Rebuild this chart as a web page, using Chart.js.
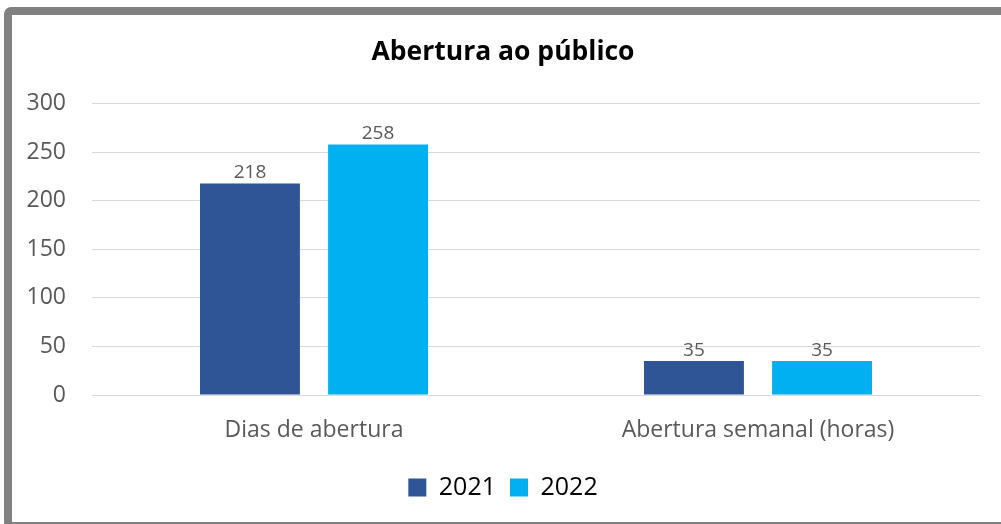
<!DOCTYPE html>
<html>
<head>
<meta charset="utf-8">
<script src="https://cdn.jsdelivr.net/npm/chart.js@4"></script>
<style>
  html, body { margin: 0; padding: 0; background: #fff; overflow: hidden; }
  #wrap { position: relative; width: 1001px; height: 524px; }
  #frame {
    position: absolute; left: 4px; top: 7px; width: 1100px; height: 523px;
    box-sizing: border-box; border: 8px solid #808080; border-radius: 7px;
    pointer-events: none;
  }
  #mycanvas { position: absolute; left: 0; top: 0; }
</style>
</head>
<body>
<div id="wrap">
  <canvas id="mycanvas" width="1001" height="524"></canvas>
  <div id="frame"></div>
</div>
<script>
// chart values
var categories = ["Dias de abertura", "Abertura semanal (horas)"];
var values2021 = [218, 35];
var values2022 = [258, 35];
var yTicks = [0, 50, 100, 150, 200, 250, 300];

var fontFamily = "'Open Sans', sans-serif";

// draws the value over each bar
var barLabels = {
    id: "barLabels",
    afterDatasetsDraw: function (chart) {
        var ctx = chart.ctx;
        ctx.save();
        ctx.font = "19px " + fontFamily;
        ctx.fillStyle = "#595959";
        ctx.textAlign = "center";
        ctx.textBaseline = "bottom";
        chart.data.datasets.forEach(function (ds, i) {
            chart.getDatasetMeta(i).data.forEach(function (bar, j) {
                ctx.fillText(ds.data[j], bar.x, bar.y - 1);
            });
        });
        ctx.restore();
    }
};

var chartdata = {
    labels: categories,
    datasets: [
        {
            label: "2021",
            backgroundColor: "#2F5597",
            data: values2021,
            categoryPercentage: 0.577,
            barPercentage: 0.78
        },
        {
            label: "2022",
            backgroundColor: "#00B0F0",
            data: values2022,
            categoryPercentage: 0.577,
            barPercentage: 0.78
        }
    ]
};

var ctx = document.getElementById("mycanvas");

var barGraph = new Chart(ctx, {
    type: "bar",
    data: chartdata,
    plugins: [barLabels],
    options: {
        responsive: false,
        animation: false,
        layout: { padding: { left: 26, right: 21, top: 0, bottom: 14 } },
        plugins: {
            title: {
                display: true,
                text: "Abertura ao público",
                color: "#000",
                font: { family: fontFamily, size: 26.5, weight: "bold" },
                padding: { top: 37, bottom: 35 }
            },
            legend: {
                position: "bottom",
                labels: {
                    color: "#000",
                    font: { family: fontFamily, size: 25 },
                    boxWidth: 18,
                    boxHeight: 18,
                    padding: 14
                }
            },
            tooltip: { enabled: false }
        },
        scales: {
            x: {
                grid: { display: false },
                border: { color: "#d9d9d9", width: 1 },
                ticks: {
                    color: "#595959",
                    font: { family: fontFamily, size: 23 },
                    padding: 14
                },
                afterFit: function (scale) { scale.height = 66; }
            },
            y: {
                min: 0,
                max: 300,
                afterBuildTicks: function (scale) {
                    scale.ticks = yTicks.map(function (v) { return { value: v }; });
                },
                grid: { color: "#d9d9d9", drawTicks: false },
                border: { display: false },
                ticks: {
                    color: "#595959",
                    font: { family: fontFamily, size: 23 },
                    padding: 26
                },
                afterFit: function (scale) { scale.width = 66; }
            }
        }
    }
});
</script>
</body>
</html>
